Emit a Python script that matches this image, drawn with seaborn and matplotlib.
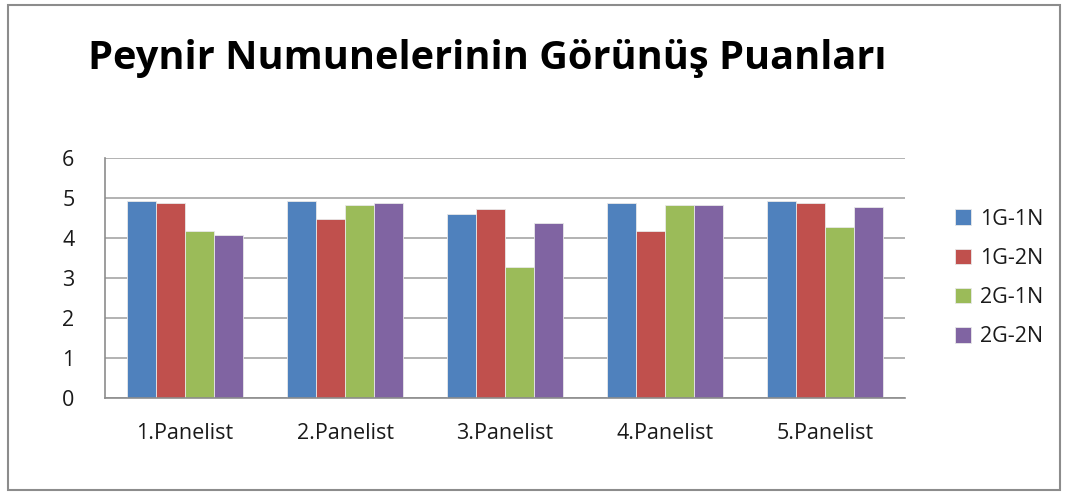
import matplotlib
matplotlib.use("Agg")
import matplotlib.pyplot as plt
import seaborn as sns
import pandas as pd
from matplotlib.patches import Rectangle

categories = ["1.Panelist", "2.Panelist", "3.Panelist", "4.Panelist", "5.Panelist"]
series_names = ["1G-1N", "1G-2N", "2G-1N", "2G-2N"]
s_1g1n = [4.92, 4.92, 4.59, 4.88, 4.92]
s_1g2n = [4.88, 4.47, 4.73, 4.18, 4.88]
s_2g1n = [4.18, 4.83, 3.28, 4.82, 4.28]
s_2g2n = [4.08, 4.88, 4.38, 4.82, 4.78]
colors = ["#4F81BD", "#C0504D", "#9BBB59", "#8064A2"]

rows = []
for name, vals in zip(series_names, [s_1g1n, s_1g2n, s_2g1n, s_2g2n]):
    for c, v in zip(categories, vals):
        rows.append({"Panelist": c, "Seri": name, "Puan": v})
df = pd.DataFrame(rows)

sns.set_theme(style="white")
plt.rcParams['font.family'] = ['Open Sans', 'DejaVu Sans']

fig = plt.figure(figsize=(10.67, 4.95), dpi=100)
ax = fig.add_axes([105/1067, 97/495, 800/1067, 240/495])

sns.barplot(data=df, x="Panelist", y="Puan", hue="Seri", order=categories,
            hue_order=series_names, palette=colors, width=0.73, gap=0,
            saturation=1, edgecolor="#e8e8e8", linewidth=0.6, ax=ax, legend=True)

ax.set_ylim(0, 6)
ax.set_xlim(-0.5, 4.5)
ax.set_yticks(range(0, 7))
ax.yaxis.grid(True, color="#A6A6A6", linewidth=1.2)
ax.set_axisbelow(True)
for s in ["top", "right"]:
    ax.spines[s].set_visible(False)
for s in ["left", "bottom"]:
    ax.spines[s].set_color("#8C8C8C")
    ax.spines[s].set_linewidth(1.2)
ax.tick_params(axis="y", left=False, labelsize=15.5, pad=16, labelcolor="#1a1a1a")
ax.tick_params(axis="x", bottom=False, labelsize=15.5, pad=12, labelcolor="#1a1a1a")
ax.set_xlabel("")
ax.set_ylabel("")

leg = ax.legend(loc="center left", bbox_to_anchor=((955 - 105)/800, (495 - 97 - 278)/240),
                frameon=False, fontsize=15.5, handlelength=0.72, handleheight=0.72,
                labelspacing=0.85, handletextpad=0.45, borderaxespad=0, borderpad=0)
for t in leg.get_texts():
    t.set_color("#1a1a1a")

fig.text(88/1067, 1 - 58/495, "Peynir Numunelerinin Görünüş Puanları",
         fontsize=28.6, fontweight="bold", ha="left", va="center", color="black")

fig.patches.append(Rectangle((8/1067, 5/495), 1052/1067, 485/495, transform=fig.transFigure,
                             fill=False, edgecolor="#8C8C8C", linewidth=1.5))

fig.savefig("out.png", dpi=100)
